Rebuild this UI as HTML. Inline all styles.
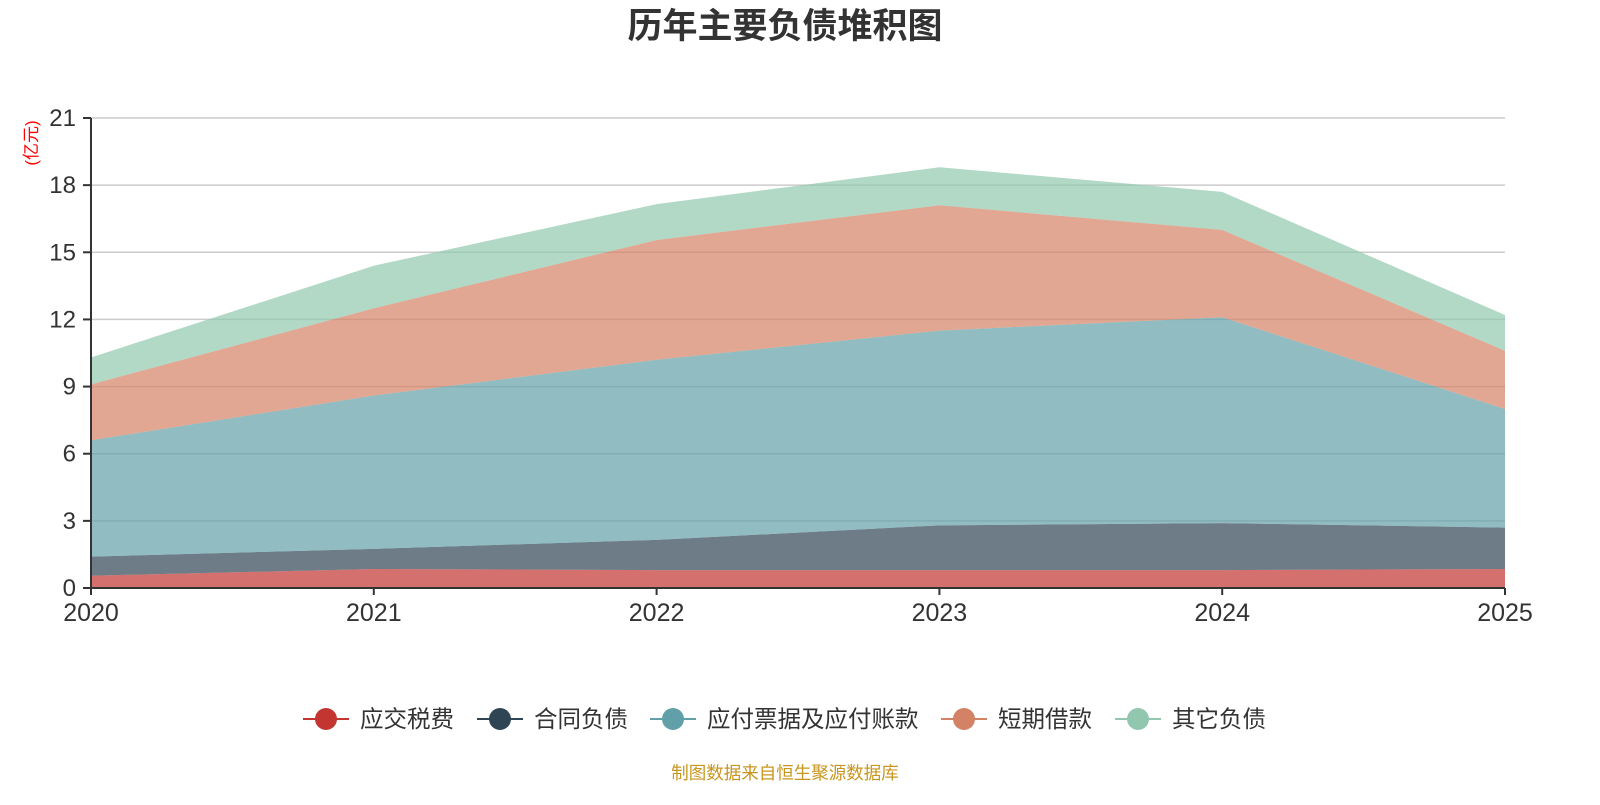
<!DOCTYPE html>
<html><head><meta charset="utf-8"><style>
body{margin:0;background:#fff;font-family:"Liberation Sans","Noto Sans CJK SC",sans-serif}
</style></head><body>
<svg id="c" width="1600" height="800" xmlns="http://www.w3.org/2000/svg" style="font-family:'Liberation Sans','Noto Sans CJK SC',sans-serif">
<text x="785" y="38" text-anchor="middle" font-size="35" font-weight="bold" fill="#333">历年主要负债堆积图</text>
<text transform="translate(37,143) rotate(-90)" text-anchor="middle" font-size="17" fill="#f00">(亿元)</text>
<g id="grid"></g><g id="areas"></g><g id="axes"></g><g id="legend"></g>
<text x="785" y="779" text-anchor="middle" font-size="17.5" fill="#c8961e">制图数据来自恒生聚源数据库</text>
</svg>
<script>
const years=["2020","2021","2022","2023","2024","2025"];
const yTicks=[0,3,6,9,12,15,18,21];
const seriesNames=["应交税费","合同负债","应付票据及应付账款","短期借款","其它负债"];
const tax=[0.55,0.85,0.8,0.8,0.8,0.85];
const contract=[0.85,0.9,1.35,2.0,2.1,1.85];
const payable=[5.2,6.85,8.05,8.7,9.2,5.3];
const shortLoan=[2.5,3.9,5.35,5.6,3.9,2.6];
const other=[1.2,1.9,1.6,1.7,1.7,1.6];
const colors=["#c23531","#2f4554","#61a0a8","#d48265","#91c7ae"];
const NS="http://www.w3.org/2000/svg";
const X0=91,X1=1505,Y0=588,Y1=118,YMAX=21;
const x=i=>X0+(X1-X0)*i/(years.length-1);
const y=v=>Y0-(Y0-Y1)*v/YMAX;
function mk(t,a,p){const e=document.createElementNS(NS,t);for(const k in a)e.setAttribute(k,a[k]);p.appendChild(e);return e;}
const G=document.getElementById('grid'),A=document.getElementById('areas'),AX=document.getElementById('axes'),L=document.getElementById('legend');
yTicks.forEach(t=>{
 if(t>0){const g=mk('line',{x1:X0,x2:X1,y1:y(t),y2:y(t),stroke:'#ccc','stroke-width':1.5},G);
 
 }
 const tk=mk('line',{x1:X0-8,x2:X0,y1:y(t),y2:y(t),stroke:'#333','stroke-width':2},AX);
 
 
 const lb=mk('text',{x:X0-15,y:y(t)+8,'text-anchor':'end','font-size':24,fill:'#333'},AX);lb.textContent=t;
 
 
});
const data=[tax,contract,payable,shortLoan,other];
let base=years.map(()=>0);
data.forEach((s,si)=>{
 const top=base.map((b,i)=>b+s[i]);
 let pts=top.map((v,i)=>x(i)+','+y(v));
 for(let i=years.length-1;i>=0;i--)pts.push(x(i)+','+y(base[i]));
 const p=mk('polygon',{points:pts.join(' '),fill:colors[si],'fill-opacity':0.7},A);
 
 
 base=top;
});
const ya=mk('line',{x1:X0,x2:X0,y1:Y1,y2:Y0,stroke:'#333','stroke-width':2},AX);


const xa=mk('line',{x1:X0,x2:X1,y1:Y0,y2:Y0,stroke:'#333','stroke-width':2},AX);


years.forEach((yr,i)=>{
 const tk=mk('line',{x1:x(i),x2:x(i),y1:Y0,y2:Y0+7,stroke:'#333','stroke-width':2},AX);
 
 
 const t=mk('text',{x:x(i),y:Y0+33,'text-anchor':'middle','font-size':25,fill:'#333'},AX);t.textContent=yr;
 
 
});
const lx=[303,477,650,941,1115];
seriesNames.forEach((n,i)=>{
 const g=mk('g',{},L);
 
 
 mk('line',{x1:lx[i],x2:lx[i]+46,y1:719,y2:719,stroke:colors[i],'stroke-width':2},g);
 mk('circle',{cx:lx[i]+23,cy:719,r:11,fill:colors[i]},g);
 const t=mk('text',{x:lx[i]+57,y:727,'font-size':23.5,fill:'#333'},g);t.textContent=n;
});
</script>
</body></html>
